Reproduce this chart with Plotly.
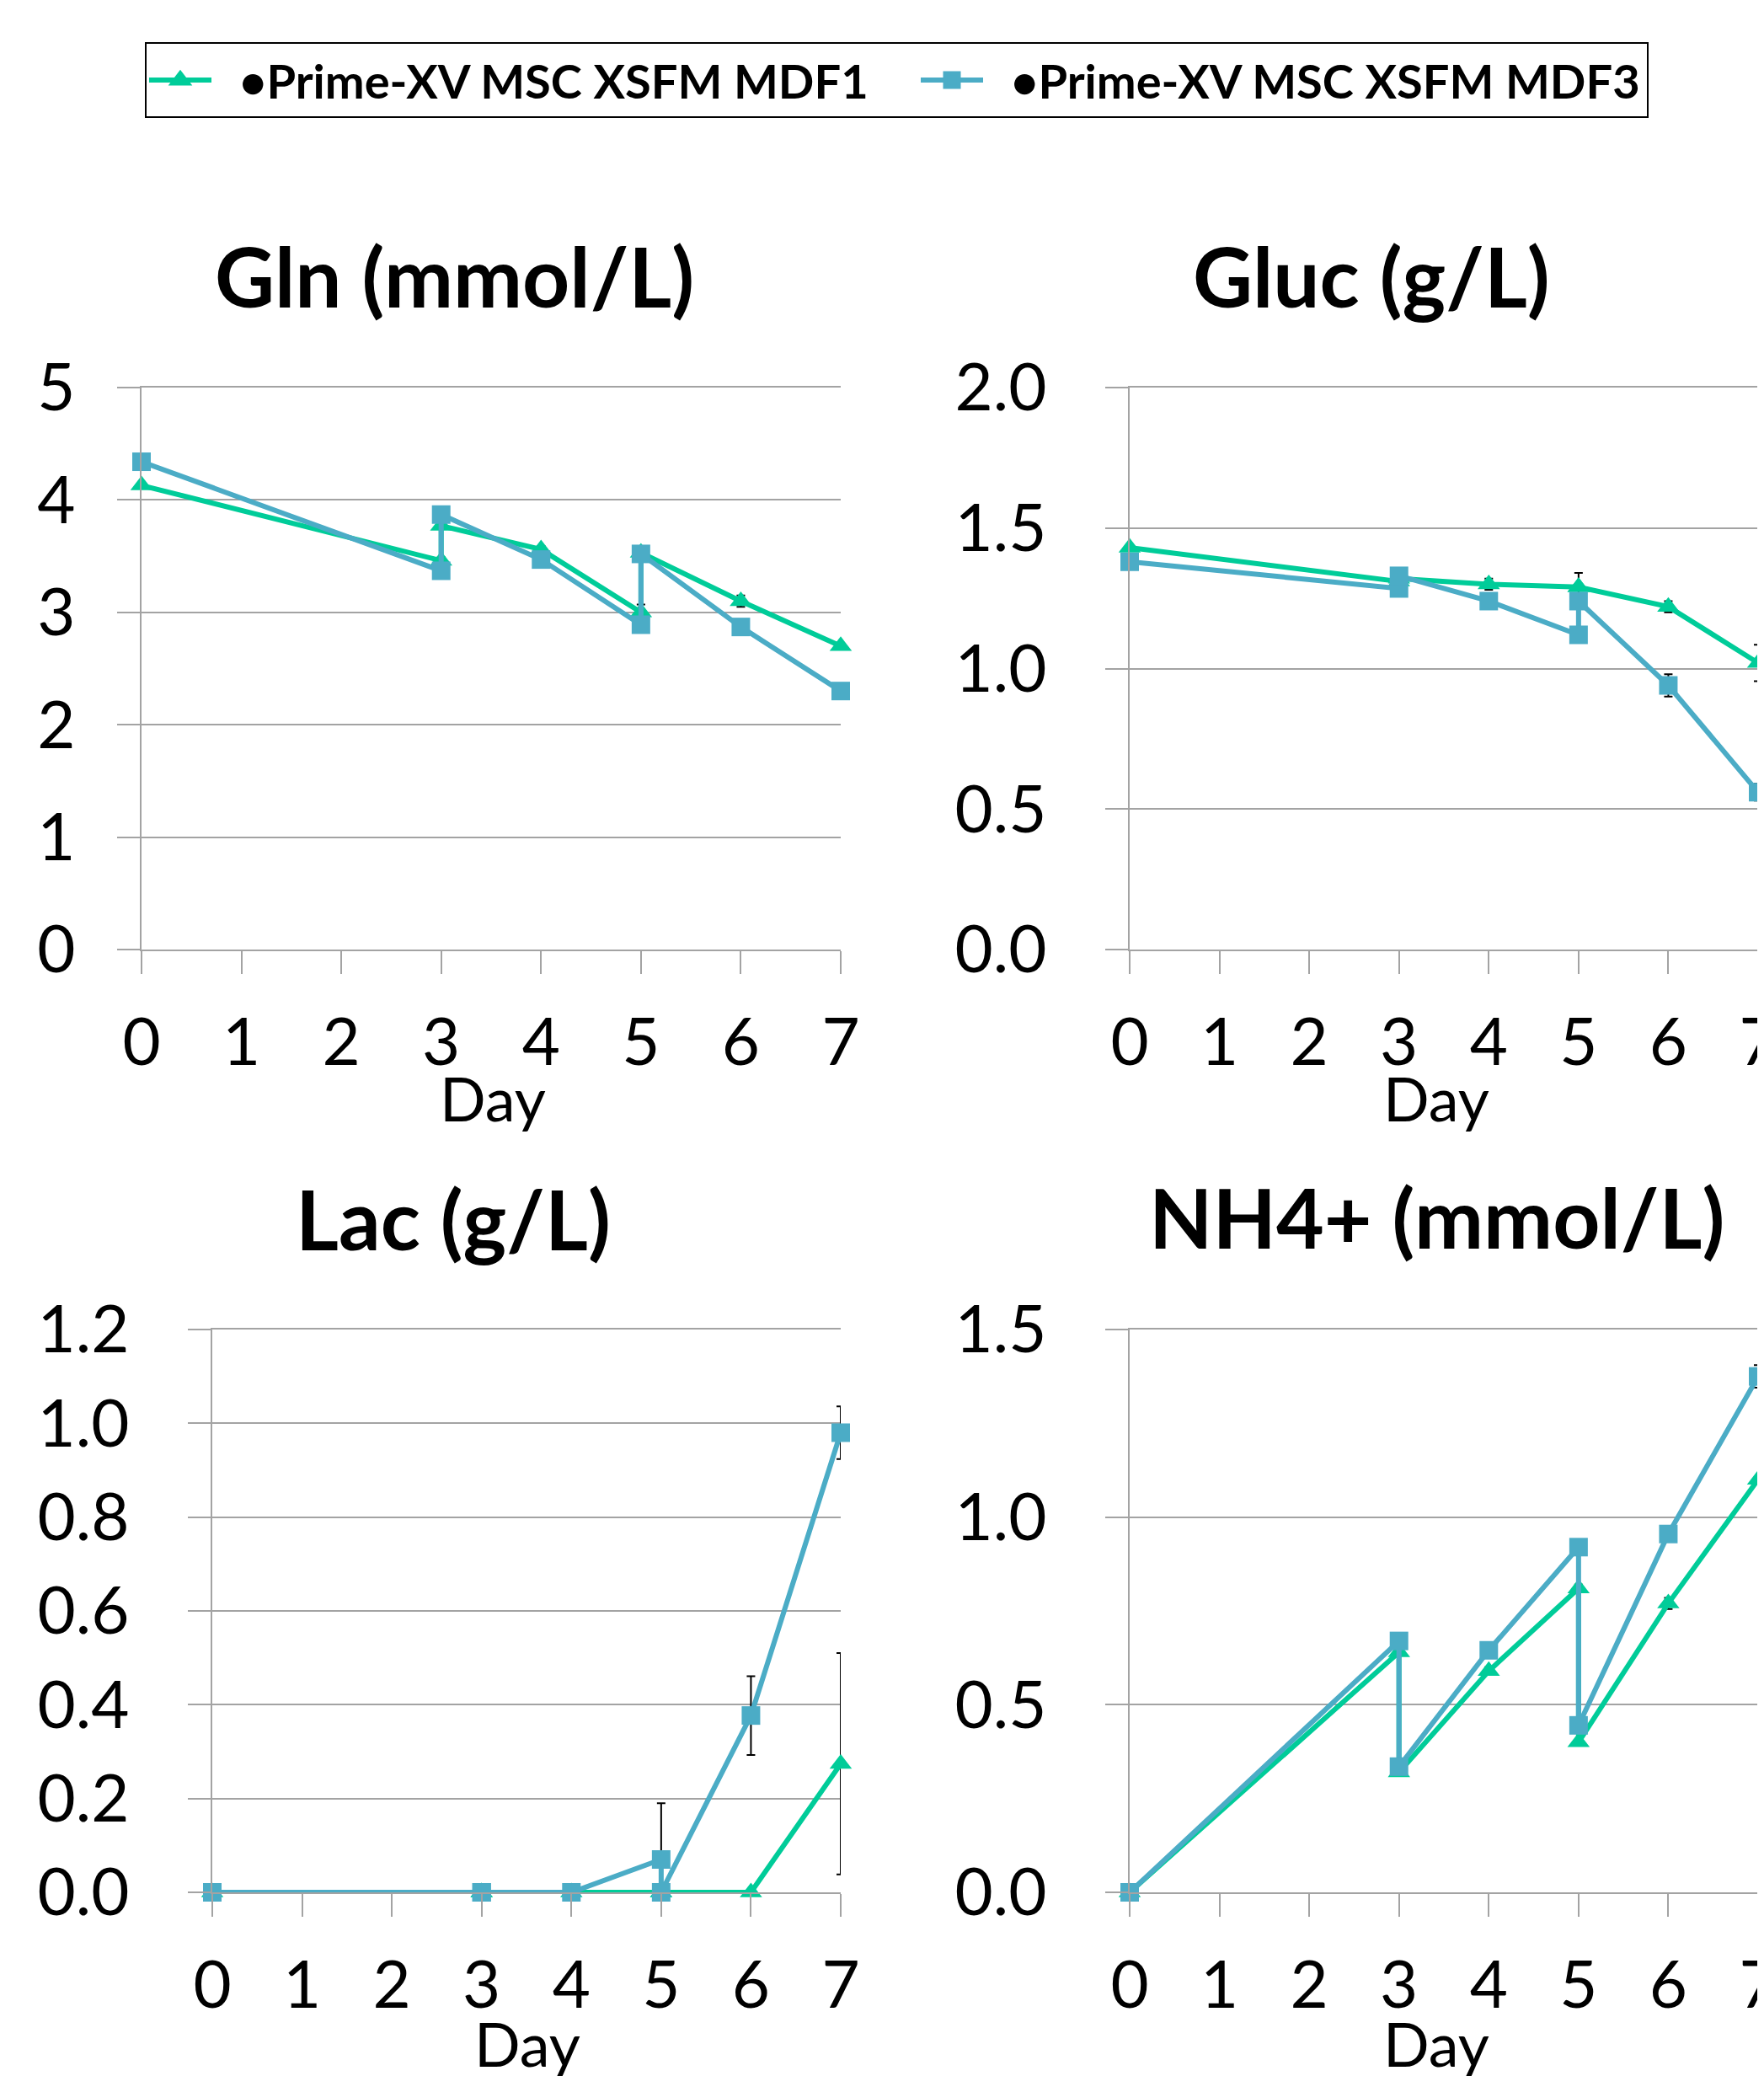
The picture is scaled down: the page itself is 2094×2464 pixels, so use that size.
import plotly.graph_objects as go

# ---------------- data ----------------
days = [0, 3, 3, 4, 5, 5, 6, 7]
day_ticks = [0, 1, 2, 3, 4, 5, 6, 7]
series_names = ["\u2002•Prime-XV MSC XSFM MDF1", "\u2002•Prime-XV MSC XSFM MDF3"]

gln_mdf1 = [4.13, 3.46, 3.77, 3.56, 3.00, 3.53, 3.10, 2.70]
gln_mdf1_err = [0, 0.03, 0, 0.03, 0.07, 0, 0.05, 0]
gln_mdf3 = [4.34, 3.37, 3.87, 3.47, 2.89, 3.52, 2.87, 2.30]
gln_mdf3_err = [0, 0, 0.07, 0, 0, 0, 0, 0]

gluc_mdf1 = [1.43, 1.31, 1.32, 1.30, 1.29, 1.29, 1.22, 1.02]
gluc_mdf1_err = [0, 0, 0, 0.02, 0.05, 0, 0.02, 0.065]
gluc_mdf3 = [1.38, 1.285, 1.33, 1.24, 1.12, 1.24, 0.94, 0.56]
gluc_mdf3_err = [0, 0, 0, 0, 0, 0, 0.04, 0.03]

lac_mdf1 = [0, 0, 0, 0, 0, 0, 0, 0.274]
lac_mdf1_err = [0, 0, 0, 0, 0, 0, 0, 0.236]
lac_mdf3 = [0, 0, 0, 0, 0.07, 0, 0.377, 0.98]
lac_mdf3_err_plus = [0, 0, 0, 0, 0.12, 0, 0.084, 0.056]
lac_mdf3_err_minus = [0, 0, 0, 0, 0.07, 0, 0.084, 0.056]

nh4_mdf1 = [0, 0.64, 0.32, 0.59, 0.81, 0.40, 0.77, 1.10]
nh4_mdf1_err = [0, 0, 0, 0.01, 0.01, 0, 0.015, 0]
nh4_mdf3 = [0, 0.67, 0.335, 0.645, 0.92, 0.445, 0.955, 1.375]
nh4_mdf3_err = [0, 0, 0, 0, 0, 0, 0.015, 0.03]

titles = ["Gln (mmol/L)", "Gluc (g/L)", "Lac (g/L)", "NH4+ (mmol/L)"]
x_title = "Day"

# ---------------- styling / layout ----------------
PAGE_MARGIN = 8            # default <body> margin of the html page
W, H = 2094 - PAGE_MARGIN, 2464 - PAGE_MARGIN
GREEN = "#00CC99"
BLUE = "#4BACC6"
GRID = "#A3A3A3"
FONT = "Lato"

def px_x(p):
    return (p - PAGE_MARGIN) / W

def px_y(p):
    return 1 - (p - PAGE_MARGIN) / H

panels = [
    dict(title=titles[0], m1=gln_mdf1, e1=gln_mdf1_err, m3=gln_mdf3, e3p=gln_mdf3_err, e3m=gln_mdf3_err,
         yr=[0, 5], dt=1, fmt="d", xd=(168, 998), yd=(460, 1127), stand=34,
         tpos=(539, 327), dpos=(585, 1303)),
    dict(title=titles[1], m1=gluc_mdf1, e1=gluc_mdf1_err, m3=gluc_mdf3, e3p=gluc_mdf3_err, e3m=gluc_mdf3_err,
         yr=[0, 2], dt=0.5, fmt=".1f", xd=(1341, 2087), yd=(460, 1127), stand=54,
         tpos=(1628, 327), dpos=(1705, 1303)),
    dict(title=titles[2], m1=lac_mdf1, e1=lac_mdf1_err, m3=lac_mdf3, e3p=lac_mdf3_err_plus, e3m=lac_mdf3_err_minus,
         yr=[0, 1.2], dt=0.2, fmt=".1f", xd=(252, 998), yd=(1578, 2246), stand=54,
         tpos=(538, 1446), dpos=(626, 2425)),
    dict(title=titles[3], m1=nh4_mdf1, e1=nh4_mdf1_err, m3=nh4_mdf3, e3p=nh4_mdf3_err, e3m=nh4_mdf3_err,
         yr=[0, 1.5], dt=0.5, fmt=".1f", xd=(1341, 2087), yd=(1578, 2246), stand=54,
         tpos=(1705, 1444), dpos=(1705, 2425)),
]

fig = go.Figure()
annotations = []
layout_axes = {}

for i, p in enumerate(panels):
    k = "" if i == 0 else str(i + 1)
    xa, ya = "x" + k, "y" + k
    fig.add_trace(go.Scatter(
        x=days, y=p["m1"], xaxis=xa, yaxis=ya, mode="lines+markers",
        name=series_names[0], legendgroup="mdf1", showlegend=False,
        line=dict(color=GREEN, width=6),
        marker=dict(symbol="triangle-up", size=23, color=GREEN),
        error_y=dict(type="data", symmetric=True, array=p["e1"], color="black", thickness=2, width=5),
        cliponaxis=False,
    ))
    fig.add_trace(go.Scatter(
        x=days, y=p["m3"], xaxis=xa, yaxis=ya, mode="lines+markers",
        name=series_names[1], legendgroup="mdf3", showlegend=False,
        line=dict(color=BLUE, width=6),
        marker=dict(symbol="square", size=22, color=BLUE),
        error_y=dict(type="data", symmetric=False, array=p["e3p"], arrayminus=p["e3m"],
                     color="black", thickness=2, width=5),
        cliponaxis=False,
    ))
    layout_axes["xaxis" + k] = dict(
        domain=[px_x(p["xd"][0]), px_x(p["xd"][1])], anchor=ya, range=[0, 7],
        tickvals=day_ticks, showgrid=False, zeroline=False, automargin=False,
        showline=True, mirror=True, linecolor=GRID, linewidth=2,
        ticks="outside", ticklen=27, tickwidth=2, tickcolor=GRID,
        tickfont=dict(family=FONT, size=78, color="black"), ticklabelstandoff=14,
        ticklabeloverflow="allow",
    )
    layout_axes["yaxis" + k] = dict(
        domain=[px_y(p["yd"][1]), px_y(p["yd"][0])], anchor=xa, range=p["yr"],
        dtick=p["dt"], tick0=0, tickformat=p["fmt"], automargin=False,
        showgrid=True, gridcolor=GRID, gridwidth=2, zeroline=False,
        showline=True, linecolor=GRID, linewidth=2,
        ticks="outside", ticklen=27, tickwidth=2, tickcolor=GRID,
        tickfont=dict(family=FONT, size=78, color="black"), ticklabelstandoff=p["stand"],
    )
    annotations.append(dict(
        text="<b>" + p["title"] + "</b>", xref="paper", yref="paper",
        x=px_x(p["tpos"][0]), y=px_y(p["tpos"][1]), xanchor="center", yanchor="middle",
        showarrow=False, font=dict(family=FONT, size=98, color="black"),
    ))
    annotations.append(dict(
        text=x_title, xref="paper", yref="paper",
        x=px_x(p["dpos"][0]), y=px_y(p["dpos"][1]), xanchor="center", yanchor="middle",
        showarrow=False, font=dict(family=FONT, size=72, color="black"),
    ))

# legend entries (larger legend symbols, as in the reference)
fig.add_trace(go.Scatter(
    x=[None], y=[None], mode="lines+markers", name=series_names[0], legendgroup="mdf1",
    line=dict(color=GREEN, width=6),
    marker=dict(symbol="triangle-up", size=30, color=GREEN, line=dict(color=GREEN, width=8)),
    legendwidth=827,
))
fig.add_trace(go.Scatter(
    x=[None], y=[None], mode="lines+markers", name=series_names[1], legendgroup="mdf3",
    line=dict(color=BLUE, width=6),
    marker=dict(symbol="square", size=34, color=BLUE, line=dict(color=BLUE, width=8)),
    legendwidth=778,
))

fig.update_layout(
    template="none",
    width=W, height=H,
    margin=dict(l=0, r=0, t=0, b=0),
    paper_bgcolor="white", plot_bgcolor="white",
    font=dict(family=FONT, color="black"),
    showlegend=True,
    legend=dict(
        orientation="h", x=px_x(172), y=px_y(50), xanchor="left", yanchor="top",
        bordercolor="black", borderwidth=2, bgcolor="white",
        font=dict(family=FONT, size=56, color="black", weight="bold"),
        itemwidth=74, itemsizing="trace", entrywidthmode="pixels",
    ),
    annotations=annotations,
    **layout_axes,
)

fig.write_html("out.html")
